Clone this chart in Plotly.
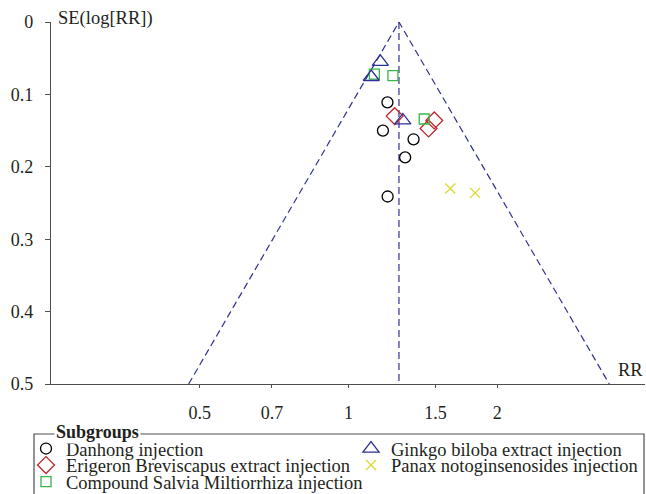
import numpy as np
import plotly.graph_objects as go

# ---- data ----
pooled_rr = 1.265
se_max = 0.5

danhong_rr = [1.199, 1.174, 1.354, 1.302, 1.200]
danhong_se = [0.111, 0.150, 0.162, 0.187, 0.241]

erigeron_rr = [1.240, 1.491, 1.452]
erigeron_se = [0.130, 0.136, 0.147]

salvia_rr = [1.128, 1.230, 1.423]
salvia_se = [0.072, 0.074, 0.134]

ginkgo_rr = [1.160, 1.112, 1.288]
ginkgo_se = [0.055, 0.076, 0.136]

panax_rr = [1.607, 1.804]
panax_se = [0.230, 0.236]

x_ticks = [0.5, 0.7, 1, 1.5, 2]
x_tick_labels = ["0.5", "0.7", "1", "1.5", "2"]
y_ticks = [0, 0.1, 0.2, 0.3, 0.4, 0.5]
y_tick_labels = ["0", "0.1", "0.2", "0.3", "0.4", "0.5"]

FONT = "Liberation Serif"
TXT = "#231F20"
AX = "#4D4D4D"
W, H = 646, 494
ML, MR, MT, MB = 51, 1, 22, 110
PW, PH = W - ML - MR, H - MT - MB


def px_x(p):
    return (p - ML) / PW


def px_y(p):
    return (H - MB - p) / PH


fig = go.Figure()

# funnel lines
lo = pooled_rr * np.exp(-1.96 * se_max)
hi = pooled_rr * np.exp(1.96 * se_max)
funnel_color = "#2E3192"
dash = "7px,4px"
fig.add_trace(go.Scatter(x=[lo, pooled_rr, hi], y=[se_max, 0, se_max], mode="lines",
                         line=dict(color=funnel_color, width=1.2, dash=dash),
                         showlegend=False, hoverinfo="skip"))
fig.add_trace(go.Scatter(x=[pooled_rr, pooled_rr], y=[0, se_max], mode="lines",
                         line=dict(color=funnel_color, width=1.2, dash=dash),
                         showlegend=False, hoverinfo="skip"))

# name, x, y, symbol, colour, size, legend id, legend marker x (px), legend row y (px)
groups = [
    ("Danhong injection", danhong_rr, danhong_se, "circle-open", "#000000", 11, "legend", 46, 449),
    ("Erigeron Breviscapus extract injection", erigeron_rr, erigeron_se, "diamond-open", "#C1272D", 13, "legend2", 46, 465.5),
    ("Compound Salvia Miltiorrhiza injection", salvia_rr, salvia_se, "square-open", "#39B54A", 10, "legend3", 46, 482),
    ("Ginkgo biloba extract injection", ginkgo_rr, ginkgo_se, "triangle-up-open", "#2E3192", 14, "legend4", 371, 449),
    ("Panax notoginsenosides injection", panax_rr, panax_se, "x-thin-open", "#D9D92B", 10, "legend5", 371, 465.5),
]
legend_layouts = {}
for name, xs, ys, sym, col, sz, lg, lx, ly in groups:
    fig.add_trace(go.Scatter(x=xs, y=ys, mode="markers", name=name, legend=lg,
                             marker=dict(symbol=sym, size=sz, color=col,
                                         line=dict(color=col, width=1.3))))
    legend_layouts[lg] = dict(x=px_x(lx - 20), y=px_y(ly), xanchor="left", yanchor="middle",
                              orientation="v", bgcolor="rgba(0,0,0,0)", borderwidth=0,
                              font=dict(family=FONT, size=18.5, color=TXT), itemwidth=30)

# legend box (fieldset style)
fig.add_shape(type="rect", xref="paper", yref="paper",
              x0=px_x(34), x1=px_x(644), y0=px_y(505), y1=px_y(434),
              line=dict(color=AX, width=1.2), layer="below")
fig.add_annotation(xref="paper", yref="paper", x=px_x(54), y=px_y(432),
                   text="<b>Subgroups</b>", showarrow=False, xanchor="left", yanchor="middle",
                   bgcolor="white", font=dict(family=FONT, size=18, color=TXT),
                   borderpad=1)

# axis titles
fig.add_annotation(xref="paper", yref="paper", x=px_x(56), y=px_y(19),
                   text="SE(log[RR])", showarrow=False, xanchor="left", yanchor="middle",
                   font=dict(family=FONT, size=18.5, color=TXT))
fig.add_annotation(xref="paper", yref="paper", x=px_x(645), y=px_y(370),
                   text="RR", showarrow=False, xanchor="right", yanchor="middle",
                   font=dict(family=FONT, size=18.5, color=TXT))

xr = [np.log10(0.25), 0.6]
fig.update_layout(
    width=W, height=H,
    margin=dict(l=ML, r=MR, t=MT, b=MB, autoexpand=False),
    paper_bgcolor="white", plot_bgcolor="white",
    font=dict(family=FONT, size=18, color=TXT),
    xaxis=dict(type="log", range=xr,
               tickvals=x_ticks, ticktext=x_tick_labels,
               showgrid=False, zeroline=False, showline=True, linecolor=AX,
               linewidth=1.3, ticks="outside", ticklen=3, tickcolor=AX, tickwidth=1.2,
               ticklabelstandoff=9, tickfont=dict(family=FONT, size=18, color=TXT)),
    xaxis2=dict(type="log", range=xr, overlaying="x", anchor="y", side="bottom",
                tickvals=x_ticks, showticklabels=False,
                showgrid=False, zeroline=False, showline=False,
                ticks="inside", ticklen=3, tickcolor=AX, tickwidth=1.2),
    yaxis=dict(range=[0.5, 0], tickvals=y_ticks, ticktext=y_tick_labels,
               showgrid=False, zeroline=False, showline=True, linecolor=AX,
               linewidth=1.3, ticks="outside", ticklen=5, tickcolor=AX, tickwidth=1.2,
               ticklabelstandoff=8, tickfont=dict(family=FONT, size=18, color=TXT)),
    yaxis2=dict(range=[0.5, 0], overlaying="y", anchor="x", side="left",
                tickvals=y_ticks, showticklabels=False,
                showgrid=False, zeroline=False, showline=False,
                ticks="inside", ticklen=4, tickcolor=AX, tickwidth=1.2),
    showlegend=True,
    **legend_layouts,
)

fig.write_html("out.html", config={"displayModeBar": False},
               post_script="document.body.style.margin='0';document.body.style.overflow='hidden';")
